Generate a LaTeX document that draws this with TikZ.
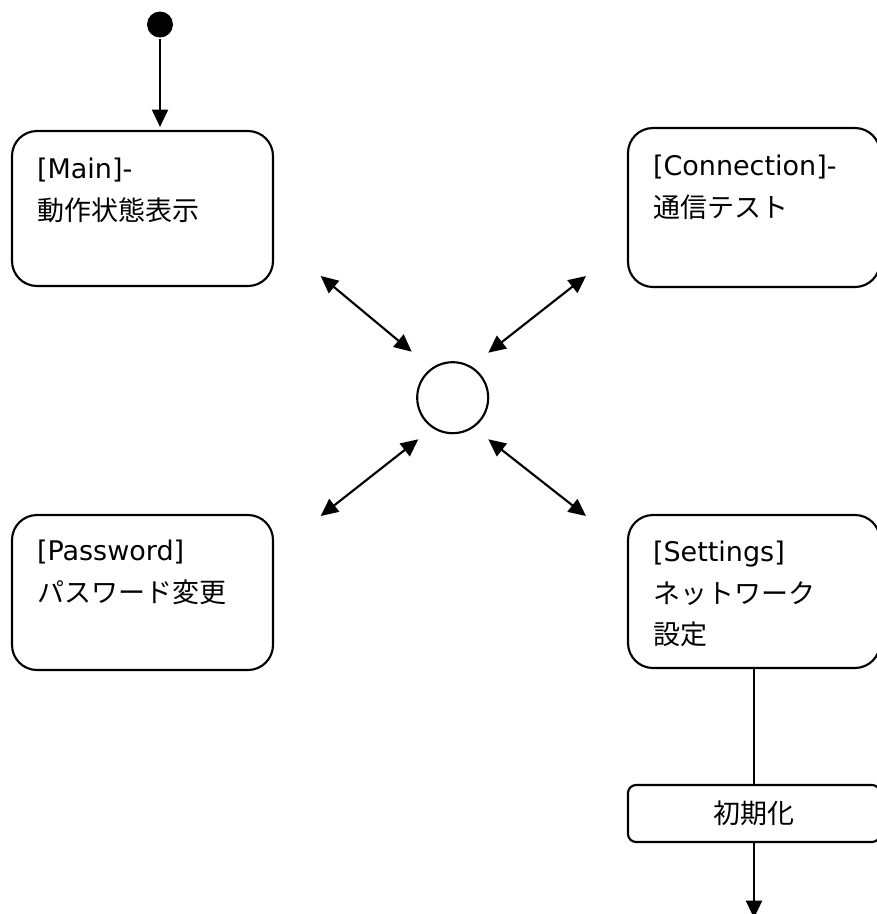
\documentclass[tikz,border=0pt]{standalone}
\usepackage{fontspec}
\setmainfont{DejaVu Sans}
\newfontfamily\jp{Noto Sans CJK JP}
\usetikzlibrary{arrows.meta,calc}
\begin{document}
\begin{tikzpicture}[x=0.75pt,y=-0.75pt,
  line width=1.6pt,
  headtip/.style={-{Triangle[length=13pt,width=12pt]}},
  twoway/.style={{Triangle[length=13pt,width=12pt]}-{Triangle[length=13pt,width=12pt]}},
  statebox/.style={draw, rounded corners=18.75pt, inner sep=0pt},
  actionbox/.style={draw, rounded corners=6pt, inner sep=0pt},
  txt/.style={anchor=base west, inner sep=0pt, font=\fontsize{20.25pt}{31pt}\selectfont},
]
\useasboundingbox (0,0) rectangle (876,914);

% initial pseudo-state
\node[fill, circle, minimum size=19.5pt, inner sep=0pt] (start) at (160,24.5) {};

% states
\node[statebox, minimum width=195.75pt, minimum height=116.25pt] (main) at (142.5,208.5) {};
\node[statebox, minimum width=189pt, minimum height=119.25pt] (conn) at (754,207.5) {};
\node[statebox, minimum width=195.75pt, minimum height=116.25pt] (pass) at (142.5,592.5) {};
\node[statebox, minimum width=189pt, minimum height=114.75pt] (sett) at (754,591.5) {};

% state texts
\node[txt] (mainText) at ($(main.north west)+(25,49)$) {\vtop{\hbox{[Main]-}\hbox{\jp 動作状態表示}}};
\node[txt] (connText) at ($(conn.north west)+(25,49)$) {\vtop{\hbox{[Connection]-}\hbox{\jp 通信テスト}}};
\node[txt] (passText) at ($(pass.north west)+(25,47)$) {\vtop{\hbox{[Password]}\hbox{\jp パスワード変更}}};
\node[txt] (settText) at ($(sett.north west)+(25,48)$) {\vtop{\hbox{[Settings]}\hbox{\jp ネットワーク}\hbox{\jp 設定}}};

% central junction
\node[draw, circle, minimum size=53.25pt, inner sep=0pt] (hub) at (452.7,397.7) {};

% action
\node[actionbox, minimum width=189pt, minimum height=42.75pt,
      font=\jp\fontsize{20.25pt}{24pt}\selectfont] (init) at (754,813.5) {初期化};

% end points of the two-way transitions
\coordinate (nwA) at (320.7,276);
\coordinate (nwB) at (411.7,351.7);
\coordinate (neA) at (586,276);
\coordinate (neB) at (488.3,352.7);
\coordinate (swA) at (320.7,516);
\coordinate (swB) at (418.3,439.3);
\coordinate (seA) at (586,516);
\coordinate (seB) at (488.3,439.3);
\coordinate (exit) at (754,918);

% transitions
\draw[headtip, shorten >=2.25pt] (start) -- (start |- main.north);
\draw[twoway] (nwA) -- (nwB);
\draw[twoway] (neA) -- (neB);
\draw[twoway] (swA) -- (swB);
\draw[twoway] (seA) -- (seB);
\draw (sett.south) -- (init.north);
\draw[headtip] (init.south) -- (exit);
\end{tikzpicture}
\end{document}
